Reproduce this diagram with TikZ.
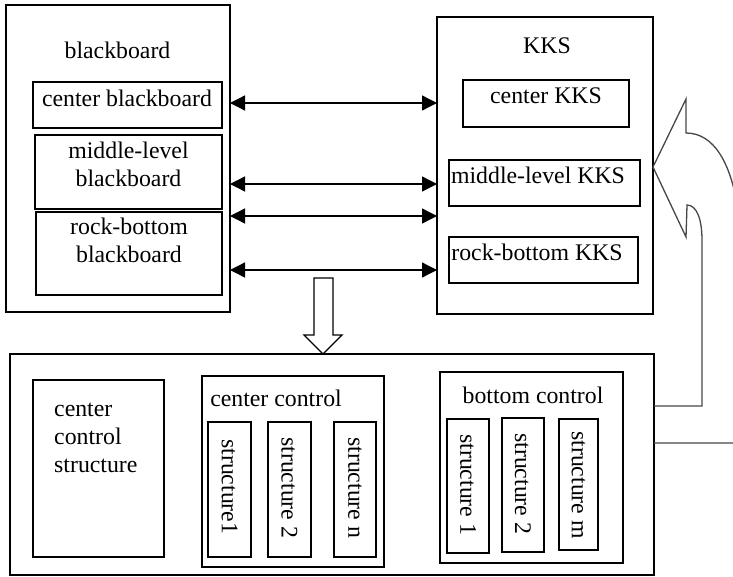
\documentclass[tikz,border=0pt]{standalone}
\usepackage{fontspec}
\setmainfont{Liberation Serif}
\usetikzlibrary{arrows.meta}
\begin{document}
\begin{tikzpicture}[x=1pt,y=-1pt,
  box/.style 2 args={draw=black, line width=1.3pt, inner sep=0pt, outer sep=0pt,
    minimum width=#1, minimum height=#2},
  txt/.style={inner sep=0pt, font=\fontsize{23.8}{27.8}\selectfont},
  vtxt/.style={txt, rotate=-90, anchor=west},
  dbl/.style={{Triangle[length=15pt,width=15pt]}-{Triangle[length=15pt,width=15pt]}, line width=1.3pt},
  blockarrow/.style={draw=black, line width=1.3pt, fill=white, line join=miter},
  curv/.style={draw=black!72, line width=1.3pt, line join=miter}
]
\useasboundingbox (0,0) rectangle (733,576);

% blackboard column
\node[box={224}{307}] (bb) at (118,158.5) {};
\node[txt, anchor=base] (bbt) at (117.5,58) {blackboard};
\node[box={189}{46}] (cbb) at (127.5,105) {};
\node[txt, anchor=base] (cbbt) at (127,106.5) {center blackboard};
\node[box={187}{74}] (mbb) at (128.5,172) {};
\node[txt, align=center] (mbbt) at (128.5,164) {middle-level\\blackboard};
\node[box={186}{83}] (rbb) at (129,253.5) {};
\node[txt, align=center] (rbbt) at (129,240.5) {rock-bottom\\blackboard};

% KKS column
\node[box={216}{297}] (kks) at (545,165.5) {};
\node[txt, anchor=base] (kkst) at (547,53) {KKS};
\node[box={166}{47}] (ckks) at (546,103.5) {};
\node[txt, anchor=base] (ckkst) at (546,103) {center KKS};
\node[box={191}{46}] (mkks) at (544.5,183) {};
\node[txt, anchor=base] (mkkst) at (538,183) {middle-level KKS};
\node[box={189}{46}] (rkks) at (543.5,260) {};
\node[txt, anchor=base] (rkkst) at (537,260) {rock-bottom KKS};

% bottom control box
\node[box={644}{221}] (bot) at (332,464.5) {};
\node[box={131}{177}] (ccs) at (98.5,468.5) {};
\node[txt, align=left, anchor=west] (ccst) at (54,438) {center\\control\\structure};

\node[box={182}{191}] (cc) at (293,471.5) {};
\node[txt, anchor=base] (cct) at (276,406) {center control};
\node[box={43}{135}] (s11) at (229.5,489.5) {};
\node[vtxt] (s11t) at (229.5,439) {structure1};
\node[box={43}{135}] (s12) at (289.5,489.5) {};
\node[vtxt] (s12t) at (289.5,437) {structure 2};
\node[box={42}{135}] (s1n) at (355,489.5) {};
\node[vtxt] (s1nt) at (355,437) {structure n};

\node[box={183}{191}] (bc) at (531.5,467.5) {};
\node[txt, anchor=base] (bct) at (533,403) {bottom control};
\node[box={42}{134}] (s21) at (468,486) {};
\node[vtxt] (s21t) at (468,434) {structure 1};
\node[box={42}{134}] (s22) at (523,485) {};
\node[vtxt] (s22t) at (523,433) {structure 2};
\node[box={39}{131}] (s2m) at (578.5,484.5) {};
\node[vtxt] (s2mt) at (578.5,431) {structure m};

% double arrows
\coordinate (y1) at (0,103);
\coordinate (y2) at (0,184);
\coordinate (y3) at (0,216);
\coordinate (y4) at (0,270);
\draw[dbl] (bb.east |- y1) -- (kks.west |- y1);
\draw[dbl] (bb.east |- y2) -- (kks.west |- y2);
\draw[dbl] (bb.east |- y3) -- (kks.west |- y3);
\draw[dbl] (bb.east |- y4) -- (kks.west |- y4);

% block arrow down
\coordinate (btip) at (323,354);
\draw[blockarrow] (314,278) -- (333,278) -- (333,335) -- (342,335) -- (btip) -- (304,335) -- (314,335) -- cycle;

% curved feedback arrow
\coordinate (ya) at (0,406);
\coordinate (yb) at (0,443);
\coordinate (yt) at (0,167);
\begin{scope}
\clip (0,0) rectangle (733,576);
\draw[curv] (bot.east |- ya) -- (702,406) -- (702,240)
  .. controls (702,220) and (697,205) .. (687,205)
  -- (686,237) -- (kks.east |- yt) -- (686,99) -- (686,133)
  .. controls (714,133) and (731,163) .. (738,210)
  -- (738,443) -- (bot.east |- yb);
\end{scope}
\end{tikzpicture}
\end{document}
